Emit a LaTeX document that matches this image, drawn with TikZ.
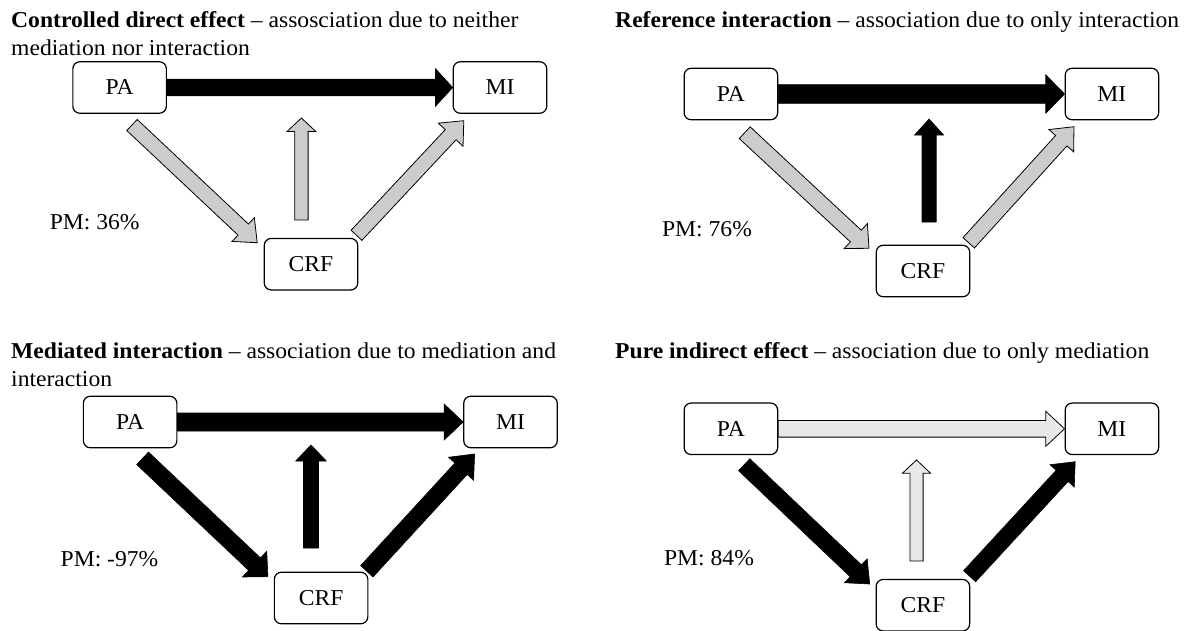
\documentclass[tikz,border=0pt]{standalone}
\usepackage{fontspec}
\setmainfont{Liberation Serif}[FakeStretch=1.04]
\usetikzlibrary{calc}
\definecolor{grayA}{RGB}{204,204,204}
\definecolor{grayB}{RGB}{232,232,232}
% #1 style, #2 tail coordinate, #3 tip coordinate, #4 shaft half width, #5 head half width, #6 head length
\newcommand\blockarrow[6]{%
  \coordinate (bahead) at ($(#3)!#6!(#2)$);
  \filldraw[#1] ($(#2)!#4!90:(#3)$) -- ($(bahead)!#4!90:(#3)$) -- ($(bahead)!#5!90:(#3)$) -- (#3)
     -- ($(bahead)!#5!-90:(#3)$) -- ($(bahead)!#4!-90:(#3)$) -- ($(#2)!#4!-90:(#3)$) -- cycle;
}
\begin{document}
\begin{tikzpicture}[x=1pt,y=-1pt,
  box/.style={draw, line width=1.2pt, rounded corners=7pt, minimum width=93.5pt, minimum height=51.5pt, inner sep=0pt, font=\fontsize{22.7}{27}\selectfont},
  txt/.style={font=\fontsize{22.7}{27}\selectfont, inner sep=0pt},
  blk/.style={fill=black, draw=black, line width=0.6pt, line join=miter},
  gry/.style={fill=grayA, draw=black, line width=0.8pt, line join=miter},
  lgry/.style={fill=grayB, draw=black, line width=0.8pt, line join=miter}]
\useasboundingbox (0,0) rectangle (1189,630);

% ---------- Panel 1 ----------
\node[txt, anchor=base west] (t1a) at (11,27.3) {\textbf{Controlled direct effect} – assosciation due to neither};
\node[txt, anchor=base west] (t1b) at (11,55) {mediation nor interaction};
\node[box] (pa1) at (119.6,87.5) {PA};
\node[box] (mi1) at (500,87.5) {MI};
\node[box] (crf1) at (311,264.2) {CRF};
\node[txt] (pm1) at (94.7,222) {PM: 36\%};
\coordinate (d1a) at (132,125);     \coordinate (d1b) at (257.2,242.7);
\coordinate (v1a) at (301.4,220);   \coordinate (v1b) at (301.4,118);
\coordinate (e1a) at (356.5,235.3); \coordinate (e1b) at (463.8,120.7);
\blockarrow{blk}{pa1.east}{mi1.west}{8.3pt}{18.8pt}{17.2pt}
\blockarrow{gry}{d1a}{d1b}{7.6pt}{16.3pt}{19.2pt}
\blockarrow{gry}{v1a}{v1b}{6.7pt}{14.4pt}{13.5pt}
\blockarrow{gry}{e1a}{e1b}{7.4pt}{16.9pt}{19.2pt}

% ---------- Panel 2 ----------
\node[txt, anchor=base west] (t2a) at (615,27.3) {\textbf{Reference interaction} – association due to only interaction};
\node[box] (pa2) at (730.9,94) {PA};
\node[box] (mi2) at (1111.9,94) {MI};
\node[box] (crf2) at (923,271) {CRF};
\node[txt] (pm2) at (707,229) {PM: 76\%};
\coordinate (d2a) at (744.7,132.7); \coordinate (d2b) at (869,248.3);
\coordinate (v2a) at (929.1,222);   \coordinate (v2b) at (929.1,119);
\coordinate (e2a) at (968.7,242.8); \coordinate (e2b) at (1074,126.7);
\blockarrow{blk}{pa2.east}{mi2.west}{9.3pt}{19.2pt}{18.8pt}
\blockarrow{gry}{d2a}{d2b}{8pt}{17pt}{18pt}
\blockarrow{blk}{v2a}{v2b}{7.1pt}{14.5pt}{16pt}
\blockarrow{gry}{e2a}{e2b}{7.7pt}{16.6pt}{18.9pt}

% ---------- Panel 3 ----------
\node[txt, anchor=base west] (t3a) at (11,358) {\textbf{Mediated interaction} – association due to mediation and};
\node[txt, anchor=base west] (t3b) at (11,386) {interaction};
\node[box] (pa3) at (130.1,422) {PA};
\node[box] (mi3) at (510.5,422) {MI};
\node[box] (crf3) at (321.1,598) {CRF};
\node[txt] (pm3) at (109.5,559) {PM: -97\%};
\coordinate (d3a) at (142.6,458.3); \coordinate (d3b) at (267.9,576.7);
\coordinate (v3a) at (311,548);     \coordinate (v3b) at (311,445);
\coordinate (e3a) at (366.8,571.3); \coordinate (e3b) at (474.6,454);
\blockarrow{blk}{pa3.east}{mi3.west}{9pt}{18pt}{19pt}
\blockarrow{blk}{d3a}{d3b}{8.6pt}{17.7pt}{18.3pt}
\blockarrow{blk}{v3a}{v3b}{7.5pt}{15.3pt}{16pt}
\blockarrow{blk}{e3a}{e3b}{8.4pt}{17pt}{20pt}

% ---------- Panel 4 ----------
\node[txt, anchor=base west] (t4a) at (615,358) {\textbf{Pure indirect effect} – association due to only mediation};
\node[box] (pa4) at (730.9,428.8) {PA};
\node[box] (mi4) at (1111.9,428.8) {MI};
\node[box] (crf4) at (922.9,605.2) {CRF};
\node[txt] (pm4) at (709,558) {PM: 84\%};
\coordinate (d4a) at (744.2,464.7); \coordinate (d4b) at (869.7,584);
\coordinate (v4a) at (916.5,561);   \coordinate (v4b) at (916.5,460);
\coordinate (e4a) at (969.6,576.2); \coordinate (e4b) at (1075.2,461.7);
\blockarrow{lgry}{pa4.east}{mi4.west}{8.3pt}{17.5pt}{18.8pt}
\blockarrow{blk}{d4a}{d4b}{8.2pt}{16.5pt}{19.2pt}
\blockarrow{lgry}{v4a}{v4b}{6.6pt}{14.1pt}{13.3pt}
\blockarrow{blk}{e4a}{e4b}{8.2pt}{16.5pt}{19.3pt}
\end{tikzpicture}
\end{document}
